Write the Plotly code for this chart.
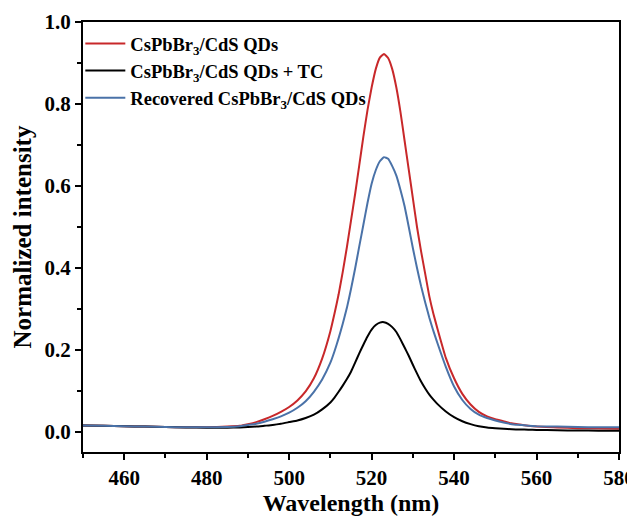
import plotly.graph_objects as go

wavelength = [450, 455, 460, 465, 470, 475, 480, 485, 488, 490, 492, 494, 496, 498, 500, 502, 504, 506, 508, 510,
              511, 512, 513, 514, 515, 516, 517, 518, 519, 520, 521, 522, 523, 524, 525, 526, 527, 528, 529, 530,
              531, 532, 533, 534, 535, 536, 538, 540, 542, 544, 546, 548, 550, 552, 554, 556, 558, 560, 565, 570, 575, 580]

qds = [0.015, 0.014, 0.013, 0.012, 0.011, 0.0105, 0.0105, 0.012, 0.014, 0.018, 0.023, 0.030, 0.038, 0.048, 0.060, 0.076, 0.098, 0.130, 0.178, 0.245,
       0.288, 0.335, 0.39, 0.45, 0.515, 0.58, 0.65, 0.72, 0.785, 0.84, 0.885, 0.913, 0.922, 0.912, 0.885, 0.84, 0.78, 0.71, 0.64, 0.57,
       0.50, 0.44, 0.385, 0.33, 0.287, 0.25, 0.18, 0.13, 0.092, 0.066, 0.048, 0.037, 0.030, 0.025, 0.020, 0.017, 0.014, 0.012, 0.010, 0.008, 0.0075, 0.007]

qds_tc = [0.015, 0.014, 0.013, 0.012, 0.011, 0.010, 0.0095, 0.0095, 0.010, 0.011, 0.012, 0.014, 0.016, 0.019, 0.023, 0.027, 0.033, 0.041, 0.054, 0.071,
          0.083, 0.097, 0.112, 0.128, 0.146, 0.168, 0.191, 0.212, 0.232, 0.249, 0.260, 0.266, 0.267, 0.263, 0.255, 0.243, 0.225, 0.205, 0.185, 0.163,
          0.142, 0.122, 0.105, 0.090, 0.078, 0.067, 0.049, 0.035, 0.025, 0.018, 0.013, 0.010, 0.008, 0.0065, 0.0055, 0.005, 0.0045, 0.004, 0.003, 0.0025, 0.002, 0.002]

recovered = [0.015, 0.014, 0.013, 0.012, 0.011, 0.0105, 0.0105, 0.011, 0.013, 0.016, 0.019, 0.024, 0.030, 0.037, 0.046, 0.058, 0.074, 0.097, 0.127, 0.168,
             0.196, 0.228, 0.263, 0.302, 0.348, 0.398, 0.452, 0.505, 0.558, 0.605, 0.638, 0.660, 0.670, 0.666, 0.648, 0.625, 0.59, 0.55, 0.50, 0.448,
             0.40, 0.355, 0.315, 0.278, 0.245, 0.215, 0.158, 0.110, 0.077, 0.055, 0.041, 0.033, 0.027, 0.022, 0.018, 0.016, 0.014, 0.013, 0.012, 0.011, 0.0105, 0.0105]

names = ["CsPbBr<sub>3</sub>/CdS QDs", "CsPbBr<sub>3</sub>/CdS QDs + TC", "Recovered CsPbBr<sub>3</sub>/CdS QDs"]
colors = ["#c8282a", "#000000", "#4a72a8"]
series = [qds, qds_tc, recovered]

fig = go.Figure()
for n, c, s in zip(names, colors, series):
    fig.add_trace(go.Scatter(x=wavelength, y=s, name=n, mode="lines",
                             line=dict(color=c, width=2, shape="spline", smoothing=0.4)))

font_family = "Liberation Serif, Times New Roman, serif"
# page body has an 8px margin, so the figure is drawn 8px smaller
fig.update_layout(
    width=627, height=509,
    margin=dict(l=75, r=16, t=14, b=65),
    paper_bgcolor="white", plot_bgcolor="white",
    font=dict(family=font_family, color="black", size=18, weight="bold"),
    legend=dict(x=-0.005, y=0.993, xanchor="left", yanchor="top", bgcolor="rgba(0,0,0,0)",
                font=dict(family=font_family, size=18.5, weight="bold", color="black"),
                itemwidth=40, tracegroupgap=0),
    showlegend=True,
)
fig.update_xaxes(
    range=[450, 580], tickvals=[460, 480, 500, 520, 540, 560, 580],
    showline=True, linewidth=2, linecolor="black", mirror=True,
    ticks="outside", ticklen=6, tickwidth=1.5, tickcolor="black",
    minor=dict(tickvals=[450, 470, 490, 510, 530, 550, 570], ticks="outside", ticklen=4, tickwidth=1.5, tickcolor="black"),
    showgrid=False, zeroline=False, automargin=False,
    tickfont=dict(family=font_family, size=21, weight="bold"),
    title=dict(text="Wavelength (nm)", font=dict(family=font_family, size=24, weight="bold"), standoff=4),
)
fig.update_yaxes(
    range=[-0.05, 1.0], tickvals=[0.0, 0.2, 0.4, 0.6, 0.8, 1.0], tickformat=".1f",
    showline=True, linewidth=2, linecolor="black", mirror=True,
    ticks="outside", ticklen=6, tickwidth=1.5, tickcolor="black",
    minor=dict(tickvals=[0.1, 0.3, 0.5, 0.7, 0.9], ticks="outside", ticklen=4, tickwidth=1.5, tickcolor="black"),
    showgrid=False, zeroline=False, automargin=False,
    tickfont=dict(family=font_family, size=21, weight="bold"),
    title=dict(text="Normalized intensity", font=dict(family=font_family, size=25, weight="bold"), standoff=6),
)

fig.write_html("out.html")
